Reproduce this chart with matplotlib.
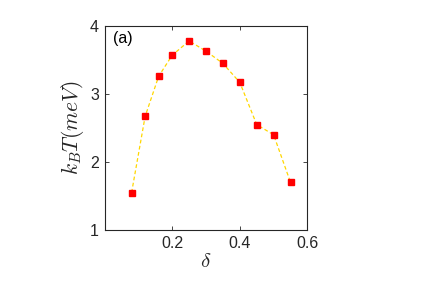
import matplotlib
matplotlib.use("Agg")
import matplotlib.pyplot as plt

delta = [0.08, 0.12, 0.16, 0.20, 0.25, 0.30, 0.35, 0.40, 0.45, 0.50, 0.55]
kBT = [1.55, 2.67, 3.26, 3.57, 3.78, 3.63, 3.45, 3.17, 2.55, 2.40, 1.70]
xticks = [0.2, 0.4, 0.6]
yticks = [1, 2, 3, 4]

plt.rcParams['font.family'] = ['Liberation Sans', 'DejaVu Sans']
plt.rcParams['mathtext.fontset'] = 'cm'

fig = plt.figure(figsize=(4.43, 2.91), dpi=100)
ax = fig.add_axes([0.236, 0.2096, 0.458, 0.7011])

ax.plot(delta, kBT, linestyle='--', color='#FFD700', linewidth=0.9, dashes=(3, 2), zorder=2)
ax.plot(delta, kBT, linestyle='none', marker='s', markersize=4.5,
        markerfacecolor='#FF0000', markeredgecolor='#FF0000', zorder=3)

ax.set_xlim(0, 0.6)
ax.set_ylim(1, 4)
ax.set_xticks(xticks)
ax.set_xticklabels(['0.2', '0.4', '0.6'])
ax.set_yticks(yticks)
ax.set_yticklabels(['1', '2', '3', '4'])

axcol = '#262626'
for s in ax.spines.values():
    s.set_color(axcol)
    s.set_linewidth(0.8)
ax.tick_params(direction='in', top=True, right=True, length=3, width=0.6,
               colors=axcol, labelsize=11.5, pad=4)

ax.set_xlabel(r'$\delta$', fontsize=15, color=axcol, labelpad=1)
ax.set_ylabel(r'$k_BT(meV)$', fontsize=15.5, color=axcol, labelpad=3)

ax.text(0.04, 0.975, '(a)', transform=ax.transAxes, ha='left', va='top',
        fontsize=11.5, color='black')

fig.savefig('out.png', dpi=100)
